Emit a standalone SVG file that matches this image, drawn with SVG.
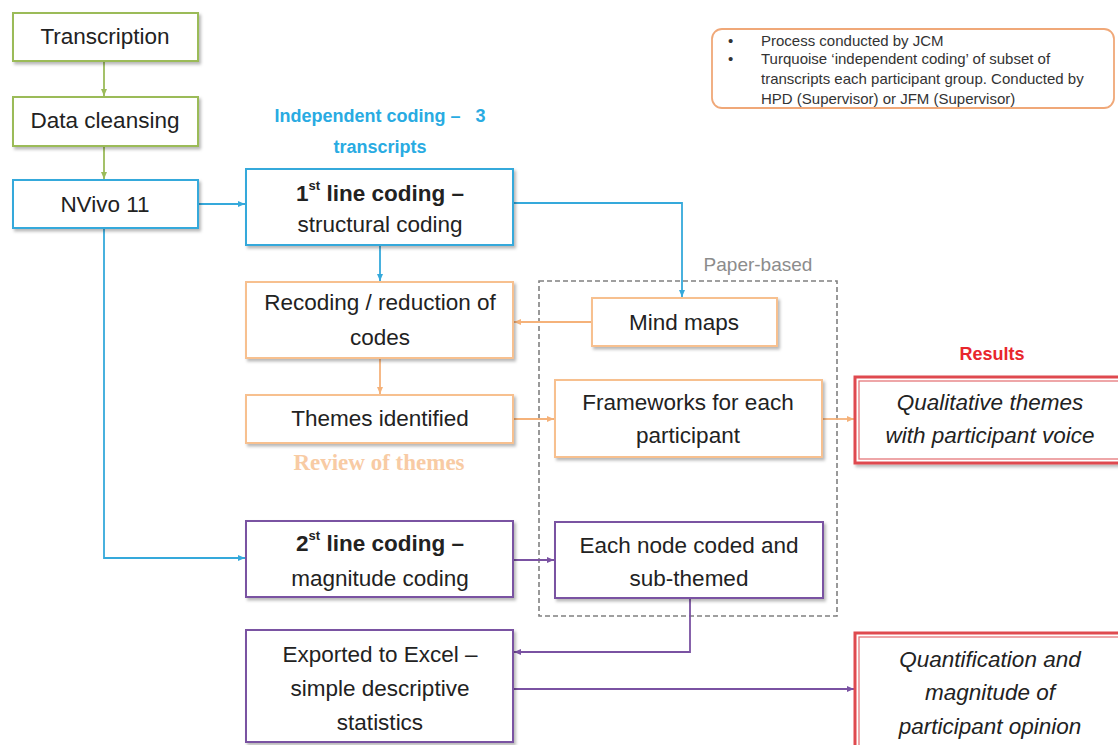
<svg xmlns="http://www.w3.org/2000/svg" width="1118" height="745" viewBox="0 0 1118 745">
<style>
  .t { font-family: "Liberation Sans", Arial, sans-serif; font-size: 22.5px; fill: #222; text-anchor: middle; dominant-baseline: central; }
  .b { font-weight: bold; }
  .i { font-style: italic; }
  .box { fill: #fff; stroke-width: 2; filter: url(#sh); }
  .g { stroke: #9bbb59; }
  .bl { stroke: #35a9db; }
  .o { stroke: #f7c08f; }
  .p { stroke: #7a52a2; }
  .c { fill: none; stroke-width: 1.8; }
  .leg { font-family: "Liberation Sans", Arial, sans-serif; font-size: 15px; fill: #333; }
  .res-o { fill: #fff; stroke: #df4a4f; stroke-width: 3; }
  .res-i { fill: none; stroke: #e5777a; stroke-width: 1.3; }
</style>
<defs>
  <filter id="sh" x="-10%" y="-10%" width="125%" height="135%">
    <feDropShadow dx="2" dy="2.5" stdDeviation="1.5" flood-color="#000" flood-opacity="0.28"/>
  </filter>
  <marker id="ag" markerWidth="8" markerHeight="8" refX="7" refY="4" orient="auto" markerUnits="userSpaceOnUse"><path d="M0,1 L7,4 L0,7 z" fill="#9bbb59"/></marker>
  <marker id="ab" markerWidth="8" markerHeight="8" refX="7" refY="4" orient="auto" markerUnits="userSpaceOnUse"><path d="M0,1 L7,4 L0,7 z" fill="#35a9db"/></marker>
  <marker id="ao" markerWidth="8" markerHeight="8" refX="7" refY="4" orient="auto" markerUnits="userSpaceOnUse"><path d="M0,1 L7,4 L0,7 z" fill="#f5b27a"/></marker>
  <marker id="ap" markerWidth="8" markerHeight="8" refX="7" refY="4" orient="auto" markerUnits="userSpaceOnUse"><path d="M0,1 L7,4 L0,7 z" fill="#7a52a2"/></marker>
</defs>
<rect width="1118" height="745" fill="#fff"/>

<!-- legend -->
<g id="legend">
  <rect x="712" y="29" width="402" height="79" rx="10" fill="#fff" stroke="#f0a878" stroke-width="1.8"/>
  <text class="leg" x="728" y="46">•</text>
  <text class="leg" x="761" y="46">Process conducted by JCM</text>
  <text class="leg" x="728" y="64">•</text>
  <text class="leg" x="761" y="64">Turquoise ‘independent coding’ of subset of</text>
  <text class="leg" x="761" y="84">transcripts each participant group. Conducted by</text>
  <text class="leg" x="761" y="104">HPD (Supervisor) or JFM (Supervisor)</text>
</g>

<!-- labels -->
<g id="labels">
  <text class="t b" x="380" y="116" style="font-size:18px;fill:#29abe2">Independent coding –&#160;&#160; 3</text>
  <text class="t b" x="380" y="147" style="font-size:18px;fill:#29abe2">transcripts</text>
  <text class="t" x="758" y="264" style="font-size:19px;fill:#8c8c8c">Paper-based</text>
  <text class="t b" x="379" y="462" style="font-family:'Liberation Serif',serif;font-size:23px;fill:#f8cba4">Review of themes</text>
  <text class="t b" x="992" y="354" style="font-size:18px;fill:#e8262c">Results</text>
</g>

<!-- dashed group -->
<g id="paper-based">
  <rect x="539" y="281" width="298" height="335" fill="none" stroke="#808080" stroke-width="1.6" stroke-dasharray="5,3"/>
</g>

<!-- connectors -->
<g id="connectors">
  <path class="c" stroke="#9bbb59" d="M104,61 V96" marker-end="url(#ag)"/>
  <path class="c" stroke="#9bbb59" d="M104,146 V179" marker-end="url(#ag)"/>
  <path class="c" stroke="#35a9db" d="M198,204 H245" marker-end="url(#ab)"/>
  <path class="c" stroke="#35a9db" d="M380,245 V281" marker-end="url(#ab)"/>
  <path class="c" stroke="#35a9db" d="M513,203 H682 V297" marker-end="url(#ab)"/>
  <path class="c" stroke="#35a9db" d="M104,228 V558 H245" marker-end="url(#ab)"/>
  <path class="c" stroke="#f5b27a" d="M592,322 H514" marker-end="url(#ao)"/>
  <path class="c" stroke="#f5b27a" d="M380,358 V394" marker-end="url(#ao)"/>
  <path class="c" stroke="#f5b27a" d="M513,419 H554" marker-end="url(#ao)"/>
  <path class="c" stroke="#f5b27a" d="M822,419 H854" marker-end="url(#ao)"/>
  <path class="c" stroke="#7a52a2" d="M513,560 H554" marker-end="url(#ap)"/>
  <path class="c" stroke="#7a52a2" d="M690,598 V652 H514" marker-end="url(#ap)"/>
  <path class="c" stroke="#7a52a2" d="M513,689 H854" marker-end="url(#ap)"/>
</g>

<g id="transcription">
  <rect class="box g" x="13" y="13" width="185" height="48"/>
  <text class="t" x="105" y="36">Transcription</text>
</g>
<g id="data-cleansing">
  <rect class="box g" x="13" y="97" width="185" height="49"/>
  <text class="t" x="105" y="120">Data cleansing</text>
</g>
<g id="nvivo">
  <rect class="box bl" x="13" y="180" width="185" height="48"/>
  <text class="t" x="105" y="204">NVivo 11</text>
</g>
<g id="first-line">
  <rect class="box bl" x="246" y="169" width="267" height="76"/>
  <text class="t b" x="380" y="193"><tspan>1</tspan><tspan font-size="13" dy="-8">st</tspan><tspan dy="8"> line coding –</tspan></text>
  <text class="t" x="380" y="224">structural coding</text>
</g>
<g id="recoding">
  <rect class="box o" x="246" y="282" width="267" height="76"/>
  <text class="t" x="380" y="302">Recoding / reduction of</text>
  <text class="t" x="380" y="337">codes</text>
</g>
<g id="mind-maps">
  <rect class="box o" x="592" y="298" width="185" height="48"/>
  <text class="t" x="684" y="322">Mind maps</text>
</g>
<g id="themes">
  <rect class="box o" x="246" y="395" width="267" height="48"/>
  <text class="t" x="380" y="418">Themes identified</text>
</g>
<g id="frameworks">
  <rect class="box o" x="555" y="380" width="267" height="77"/>
  <text class="t" x="688" y="402">Frameworks for each</text>
  <text class="t" x="688" y="435">participant</text>
</g>
<g id="qualitative">
  <rect class="res-o" x="855" y="377" width="270" height="86" filter="url(#sh)"/>
  <rect class="res-i" x="859" y="381" width="262" height="78"/>
  <text class="t i" x="990" y="402">Qualitative themes</text>
  <text class="t i" x="990" y="435">with participant voice</text>
</g>
<g id="second-line">
  <rect class="box p" x="246" y="521" width="267" height="76"/>
  <text class="t b" x="380" y="543"><tspan>2</tspan><tspan font-size="13" dy="-8">st</tspan><tspan dy="8"> line coding –</tspan></text>
  <text class="t" x="380" y="578">magnitude coding</text>
</g>
<g id="each-node">
  <rect class="box p" x="555" y="522" width="268" height="76"/>
  <text class="t" x="689" y="545">Each node coded and</text>
  <text class="t" x="689" y="578">sub-themed</text>
</g>
<g id="exported">
  <rect class="box p" x="246" y="630" width="267" height="112"/>
  <text class="t" x="380" y="654">Exported to Excel –</text>
  <text class="t" x="380" y="688">simple descriptive</text>
  <text class="t" x="380" y="722">statistics</text>
</g>
<g id="quantification">
  <rect class="res-o" x="855" y="633" width="270" height="120"/>
  <rect class="res-i" x="859" y="637" width="262" height="112"/>
  <text class="t i" x="990" y="659">Quantification and</text>
  <text class="t i" x="990" y="692">magnitude of</text>
  <text class="t i" x="990" y="726">participant opinion</text>
</g>
</svg>
